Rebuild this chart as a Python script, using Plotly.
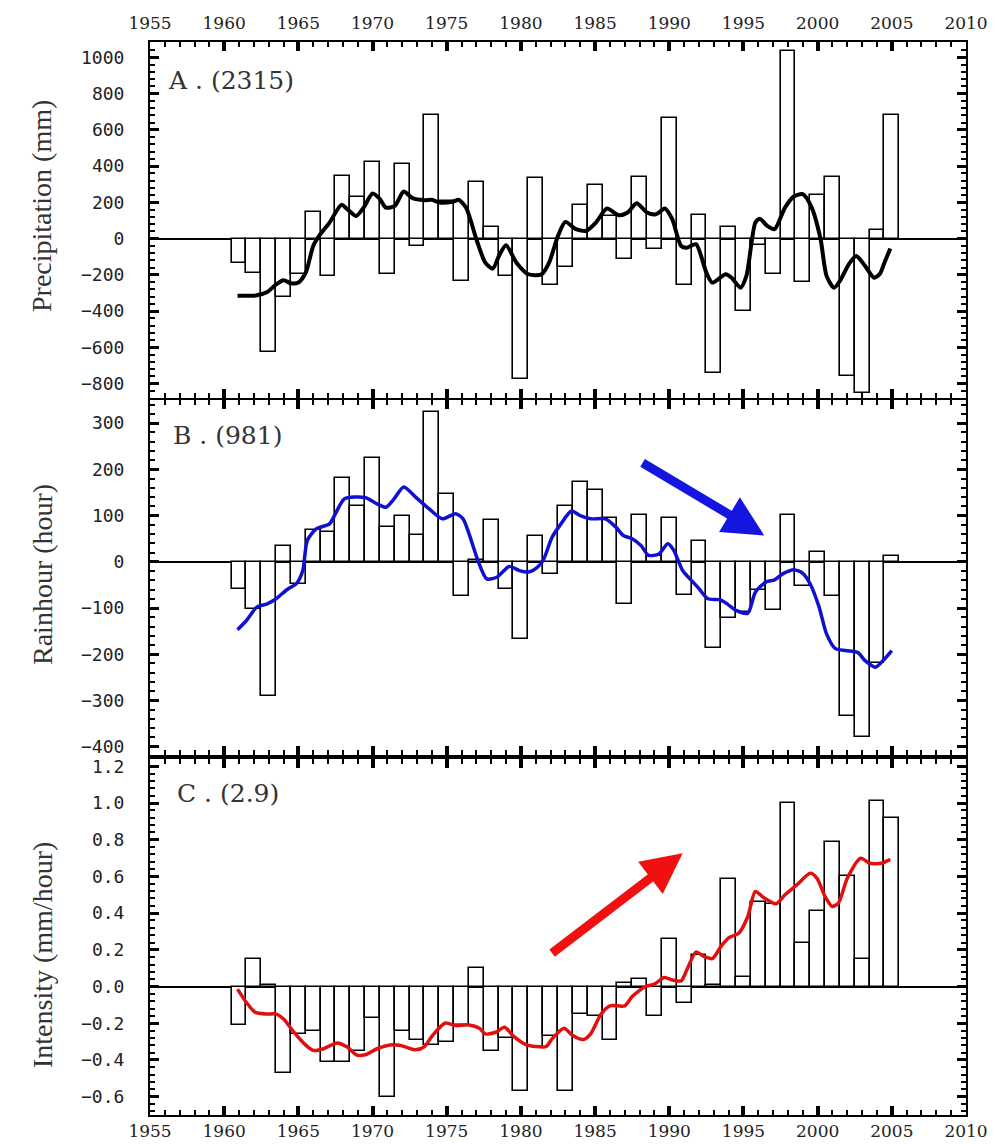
import plotly.graph_objects as go
from plotly.subplots import make_subplots

years = list(range(1961, 2006))

precip = [-135, -190, -625, -325, -195, 145, -205, 344, 232, 424,
          -193, 413, -41, 681, 210, -236, 312, 65, -205, -776,
          335, -258, -157, 186, 297, 125, -114, 341, -55, 663,
          -256, 129, -744, 64, -400, -35, -193, 1035, -238, 241,
          341, -756, -855, 46, 684]

rainhour = [-58, -102, -291, 34, -48, 68, 64, 181, 121, 224,
            76, 100, 59, 324, 146, -75, 3, 91, -58, -167,
            56, -27, 120, 172, 156, 95, -92, 102, 12, 95,
            -71, 46, -187, -122, -109, -60, -105, 102, -53, 21,
            -75, -334, -378, -220, 12]

intensity = [-0.21, 0.15, 0.01, -0.47, -0.26, -0.24, -0.41, -0.41, -0.35, -0.17,
             -0.60, -0.24, -0.29, -0.32, -0.30, -0.21, 0.10, -0.35, -0.28, -0.57,
             -0.33, -0.27, -0.57, -0.15, -0.16, -0.29, 0.02, 0.04, -0.16, 0.26,
             -0.09, 0.17, 0.01, 0.585, 0.05, 0.46, 0.45, 1.0, 0.24, 0.41,
             0.79, 0.60, 0.15, 1.01, 0.92]

precip_smooth_x = [1960.9, 1962.2, 1962.9, 1963.5, 1964.0, 1964.5, 1965.0, 1965.5, 1966.0, 1966.4,
                   1967.1, 1967.9, 1968.3, 1968.9, 1969.4, 1970.0, 1970.5, 1970.9, 1971.5, 1972.1,
                   1972.7, 1973.5, 1974.0, 1974.5, 1975.4, 1975.8, 1976.3, 1977.0, 1977.6, 1978.1,
                   1978.55, 1979.0, 1979.7, 1980.5, 1981.4, 1981.9, 1982.5, 1983.0, 1983.7, 1984.4,
                   1985.05, 1985.8, 1986.6, 1987.2, 1987.8, 1988.5, 1989.1, 1989.7, 1990.2, 1990.8,
                   1991.2, 1991.8, 1992.5, 1992.9, 1993.8, 1994.2, 1994.8, 1995.2, 1995.8, 1996.1,
                   1996.6, 1997.1, 1997.8, 1998.4, 1999.0, 1999.6, 2000.2, 2000.6, 2001.1, 2001.5,
                   2002.1, 2002.6, 2003.2, 2003.8, 2004.2, 2004.5, 2004.9]
precip_smooth_y = [-315, -313, -295, -253, -230, -247, -243, -188, -41, 15,
                   88, 186, 162, 125, 171, 249, 218, 171, 181, 260,
                   223, 212, 214, 199, 203, 214, 171, -4, -133, -166,
                   -90, -37, -133, -197, -197, -133, 15, 92, 52, 43,
                   88, 166, 129, 144, 195, 144, 134, 166, 107, -41,
                   -50, -31, -188, -243, -197, -216, -271, -206, 88, 110,
                   70, 52, 171, 232, 245, 171, -4, -206, -271, -234,
                   -142, -96, -151, -216, -194, -133, -55]

rain_smooth_x = [1960.9, 1961.5, 1962.2, 1962.9, 1963.5, 1964.2, 1964.9, 1965.3, 1965.6, 1966.2,
                 1967.1, 1967.5, 1968.1, 1969.5, 1970.2, 1970.9, 1971.4, 1972.1, 1972.9, 1973.8,
                 1974.7, 1975.6, 1976.1, 1976.5, 1977.1, 1977.7, 1978.4, 1979.2, 1979.9, 1980.5,
                 1981.1, 1981.5, 1982.1, 1982.7, 1983.4, 1984.0, 1984.7, 1985.7, 1986.4, 1986.9,
                 1987.5, 1988.1, 1988.6, 1989.3, 1989.9, 1990.3, 1990.9, 1991.6, 1992.0, 1992.6,
                 1993.4, 1993.9, 1994.5, 1995.3, 1995.8, 1996.5, 1997.1, 1997.7, 1998.4, 1999.0,
                 1999.5, 2000.1, 2000.6, 2001.2, 2001.9, 2002.7, 2003.2, 2003.9, 2004.4, 2005.0]
rain_smooth_y = [-147, -127, -98, -91, -80, -61, -46, -19, 46, 71,
                 82, 104, 136, 139, 127, 118, 134, 162, 140, 115,
                 93, 104, 93, 61, 3, -37, -33, -10, -19, -22,
                 -12, 3, 53, 82, 110, 100, 93, 93, 75, 57,
                 50, 35, 14, 17, 39, 25, -19, -44, -58, -80,
                 -82, -91, -105, -111, -66, -44, -39, -25, -17, -25,
                 -48, -98, -156, -188, -192, -196, -214, -228, -214, -192]

int_smooth_x = [1960.9, 1961.5, 1962.1, 1962.9, 1963.5, 1964.0, 1964.7, 1965.4, 1966.0, 1966.7,
                1967.6, 1968.3, 1968.9, 1969.5, 1970.3, 1971.2, 1971.9, 1972.9, 1973.5, 1974.0,
                1974.9, 1975.6, 1976.5, 1977.2, 1977.6, 1978.3, 1978.9, 1979.5, 1980.3, 1981.0,
                1981.7, 1982.1, 1982.9, 1983.5, 1984.2, 1984.7, 1985.4, 1986.0, 1987.0, 1987.5,
                1988.4, 1989.0, 1989.65, 1990.2, 1990.8, 1991.2, 1991.8, 1992.3, 1992.9, 1993.5,
                1994.0, 1994.7, 1995.3, 1995.8, 1996.4, 1997.2, 1997.8, 1998.6, 1999.5, 1999.96,
                2000.5, 2000.97, 2001.4, 2002.0, 2002.9, 2003.5, 2004.3, 2004.9]
int_smooth_y = [-0.014, -0.087, -0.141, -0.15, -0.15, -0.177, -0.249, -0.312, -0.348, -0.339,
                -0.307, -0.33, -0.372, -0.372, -0.339, -0.318, -0.321, -0.345, -0.327, -0.271,
                -0.199, -0.213, -0.209, -0.227, -0.258, -0.249, -0.222, -0.27, -0.315, -0.327,
                -0.327, -0.285, -0.227, -0.267, -0.289, -0.258, -0.15, -0.105, -0.105, -0.054,
                0.0, 0.013, 0.049, 0.036, 0.031, 0.094, 0.188, 0.166, 0.152, 0.22,
                0.265, 0.292, 0.383, 0.518, 0.482, 0.451, 0.5, 0.554, 0.617, 0.59,
                0.491, 0.437, 0.455, 0.59, 0.699, 0.672, 0.672, 0.693]

panel_labels = ["A . (2315)", "B . (981)", "C . (2.9)"]
y_titles = ["Precipitation (mm)", "Rainhour (hour)", "Intensity (mm/hour)"]
x_ticks = list(range(1955, 2011, 5))

# the page body adds an 8px offset; size the figure so the plot lands where the reference has it
OFF = 8
W, H = 995 - OFF, 1145 - OFF
ML, MR, MT, MB = 150 - OFF, 29, 42 - OFF, 30
PH = H - MT - MB
PW = W - ML - MR
SCREEN_BOTTOM = OFF + H - MB
SCREEN_LEFT = OFF + ML


def py(px):
    return (SCREEN_BOTTOM - px) / PH


def pxx(px):
    return (px - SCREEN_LEFT) / PW


fig = make_subplots(rows=3, cols=1)

bar_style = dict(marker=dict(color="white", line=dict(color="black", width=1.6)), width=1.0)
fig.add_trace(go.Bar(x=years, y=precip, **bar_style), row=1, col=1)
fig.add_trace(go.Bar(x=years, y=rainhour, **bar_style), row=2, col=1)
fig.add_trace(go.Bar(x=years, y=intensity, **bar_style), row=3, col=1)

fig.add_trace(go.Scatter(x=precip_smooth_x, y=precip_smooth_y, mode="lines",
                         line=dict(color="black", width=4, shape="spline", smoothing=0.7)), row=1, col=1)
fig.add_trace(go.Scatter(x=rain_smooth_x, y=rain_smooth_y, mode="lines",
                         line=dict(color="#1010d0", width=3.5, shape="spline", smoothing=0.7)), row=2, col=1)
fig.add_trace(go.Scatter(x=int_smooth_x, y=int_smooth_y, mode="lines",
                         line=dict(color="#e01010", width=3.5, shape="spline", smoothing=0.7)), row=3, col=1)

domains = [[py(398), 1.0], [py(755), py(400)], [0.0, py(759)]]
yranges = [[-880, 1085], [-418, 350], [-0.7, 1.24]]
ydticks = [200, 100, 0.2]
yminor = [40, 20, 0.04]
ytickformat = ["d", "d", ".1f"]

tickfont_y = dict(family="DejaVu Sans Mono", size=18, color="#222")
tickfont_x = dict(family="DejaVu Serif", size=17, color="#222")

for i in range(3):
    r = i + 1
    fig.update_yaxes(row=r, col=1, domain=domains[i], range=yranges[i], dtick=ydticks[i],
                     tick0=0, tickformat=ytickformat[i], automargin=False,
                     showgrid=False, zeroline=True, zerolinecolor="black", zerolinewidth=1.5,
                     showline=True, linecolor="black", linewidth=2, mirror="allticks",
                     ticks="inside", ticklen=9, tickwidth=2.5, tickcolor="black",
                     minor=dict(dtick=yminor[i], tick0=0, ticks="inside", ticklen=5, tickwidth=1.5,
                                tickcolor="black", showgrid=False),
                     tickfont=tickfont_y, ticklabelstandoff=20)
    fig.update_xaxes(row=r, col=1, range=[1955, 2010], tickvals=x_ticks, automargin=False,
                     showgrid=False, zeroline=False,
                     showline=True, linecolor="black", linewidth=2, mirror="allticks",
                     ticks="inside", ticklen=9, tickwidth=3.5, tickcolor="black",
                     minor=dict(dtick=1, tick0=1955, ticks="inside", ticklen=5, tickwidth=2,
                                tickcolor="black", showgrid=False),
                     tickfont=tickfont_x, showticklabels=(i != 1), ticklabelstandoff=4)

fig.update_xaxes(row=1, col=1, side="top")
fig.update_xaxes(row=3, col=1, ticklabelstandoff=0)

annotations = []
label_pos = [(166, 80), (171, 435), (175, 793)]
for txt, (lx, ly) in zip(panel_labels, label_pos):
    annotations.append(dict(text=txt, xref="paper", yref="paper",
                            x=pxx(lx), y=py(ly), xanchor="left", yanchor="middle",
                            showarrow=False, font=dict(family="DejaVu Serif", size=25, color="#333")))
title_pos = [206, 575, 955]
for txt, ty in zip(y_titles, title_pos):
    annotations.append(dict(text=txt, xref="paper", yref="paper",
                            x=pxx(42), y=py(ty), xanchor="center", yanchor="middle",
                            textangle=-90, showarrow=False,
                            font=dict(family="Liberation Serif", size=28, color="#333")))

# trend arrows
annotations.append(dict(x=1996.4, y=57, ax=1988.1, ay=216, xref="x2", yref="y2",
                        axref="x2", ayref="y2", showarrow=True, text="",
                        arrowhead=2, arrowsize=0.9, arrowwidth=9, arrowcolor="#1515e0"))
annotations.append(dict(x=1990.9, y=0.726, ax=1982.0, ay=0.176, xref="x3", yref="y3",
                        axref="x3", ayref="y3", showarrow=True, text="",
                        arrowhead=2, arrowsize=0.9, arrowwidth=9, arrowcolor="#f01010"))

fig.update_layout(width=W, height=H, margin=dict(l=ML, r=MR, t=MT, b=MB, autoexpand=False),
                  plot_bgcolor="white", paper_bgcolor="white", showlegend=False,
                  bargap=0, annotations=annotations)

fig.write_html("out.html")
